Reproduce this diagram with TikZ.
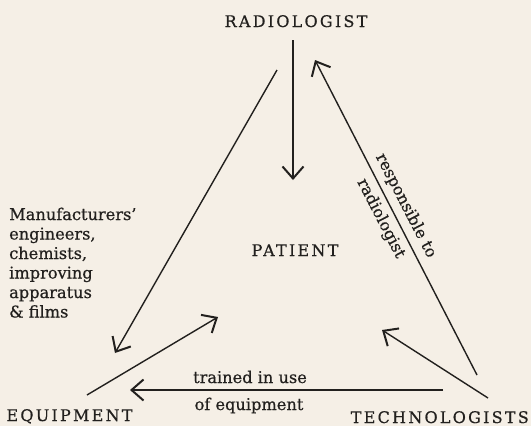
\documentclass[tikz,border=0pt]{standalone}
\usepackage{fontspec}
\setmainfont[FakeBold=0.6]{DejaVu Serif}
\newfontfamily\capsfont[LetterSpace=14,FakeBold=0.6]{DejaVu Serif}
\usetikzlibrary{arrows.meta}
\definecolor{paper}{RGB}{245,239,230}
\definecolor{ink}{RGB}{34,32,30}
\tikzset{
  caplbl/.style={inner sep=0pt, anchor=base, text=ink, font=\capsfont\fontsize{16}{19}\selectfont},
  lbl/.style={inner sep=0pt, text=ink, font=\fontsize{16.2}{19.5}\selectfont},
  arr/.style={draw=ink, line width=1.4pt, -{Straight Barb[length=12pt,width=21pt,line width=2pt]}},
}
\begin{document}
\begin{tikzpicture}[x=1pt,y=-1pt]
\fill[paper] (0,0) rectangle (531,426);
\useasboundingbox (0,0) rectangle (531,426);

\node[caplbl] (rad) at (296,27) {RADIOLOGIST};
\node[caplbl] (pat) at (295,256) {PATIENT};
\node[caplbl] (equ) at (69.5,421) {EQUIPMENT};
\node[caplbl, anchor=base east] (tec) at (529,423) {TECHNOLOGISTS};

\node[lbl, anchor=base west, align=left] (mfr) at (9,317.5)
  {Manufacturers'\\engineers,\\chemists,\\improving\\apparatus\\\& films};
\node[lbl, anchor=base] (tr1) at (250,383) {trained in use};
\node[lbl, anchor=base] (tr2) at (249,410) {of equipment};

\coordinate (a1s) at (293,40);  \coordinate (a1e) at (293,180);
\coordinate (a2s) at (277,70);  \coordinate (a2e) at (115,353);
\coordinate (a3s) at (477,375); \coordinate (a3e) at (315,60);
\coordinate (a4s) at (488,398); \coordinate (a4e) at (382,330);
\coordinate (a5s) at (87,395);  \coordinate (a5e) at (218,317);
\coordinate (a6s) at (443,390); \coordinate (a6e) at (130,390);

\draw[arr] (a1s) -- (a1e);
\draw[arr] (a2s) -- (a2e);
\draw[arr] (a3s) -- node[pos=0.517, sloped, lbl, align=center,
   font=\fontsize{16}{28}\selectfont] (resp) {responsible to\\radiologist} (a3e);
\draw[arr] (a4s) -- (a4e);
\draw[arr] (a5s) -- (a5e);
\draw[arr] (a6s) -- (a6e);
\end{tikzpicture}
\end{document}
